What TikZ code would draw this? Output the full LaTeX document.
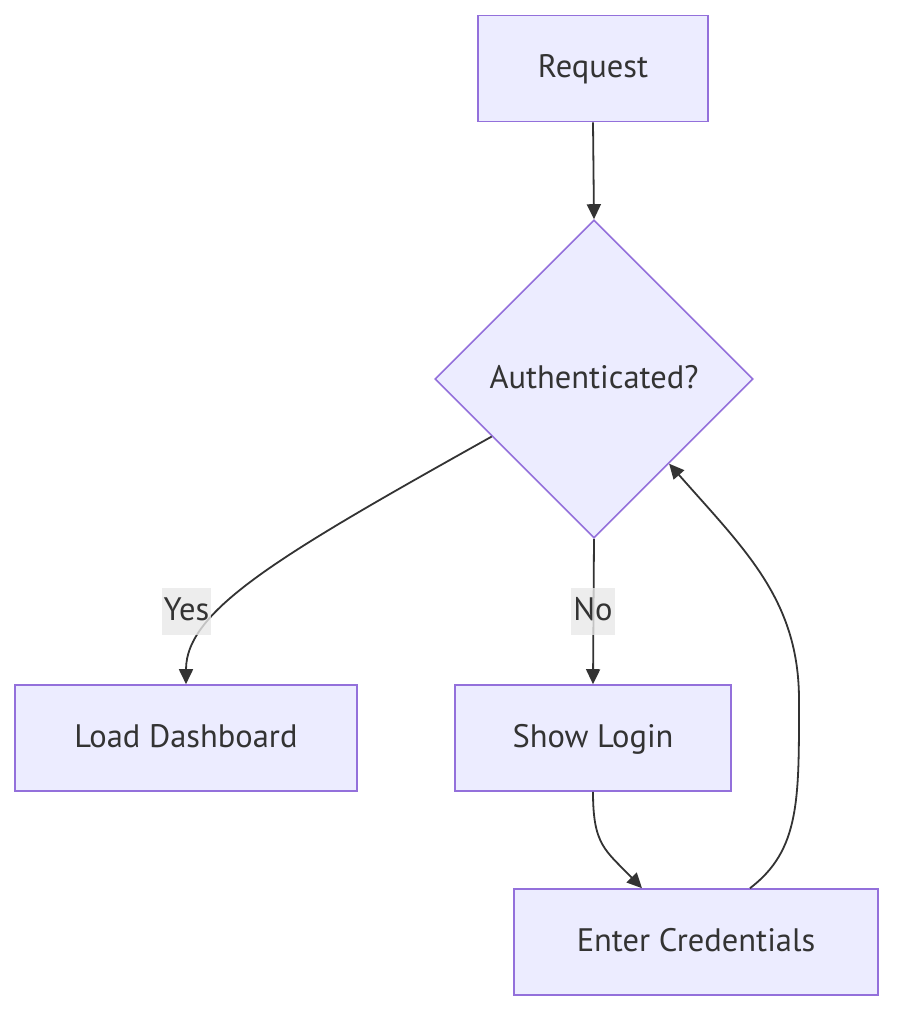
\documentclass[tikz,border=0pt]{standalone}
\usepackage{fontspec}
\setmainfont{PT Sans}
\usetikzlibrary{shapes.geometric,arrows.meta,calc}
\definecolor{nodefill}{HTML}{ECECFF}
\definecolor{nodestroke}{HTML}{9370DB}
\definecolor{edgecol}{HTML}{333333}
\definecolor{txtcol}{HTML}{333333}
\definecolor{lblbg}{HTML}{E8E8E8}
\begin{document}
\begin{tikzpicture}[x=1pt,y=-1pt,
  lblfont/.style={font=\fontsize{32.5}{38}\selectfont,text height=23pt,text depth=5pt},
  box/.style={draw=nodestroke,fill=nodefill,line width=1.6pt,minimum height=106pt,inner sep=0pt,text=txtcol,lblfont},
  decision/.style={diamond,aspect=1,draw=nodestroke,fill=nodefill,line width=1.6pt,minimum width=318pt,minimum height=318pt,inner sep=0pt,text=txtcol,lblfont},
  edge/.style={draw=edgecol,line width=1.8pt,-{Triangle[length=15pt,width=14pt]}},
  elabel/.style={fill=lblbg,fill opacity=0.8,text opacity=1,text=txtcol,inner xsep=2pt,inner ysep=0pt,minimum height=47pt,lblfont}
]
\useasboundingbox (0,0) rectangle (910,1028);
\node[box,minimum width=230pt] (req) at (593,68.5) {Request};
\node[decision] (auth) at (594,379) {Authenticated?};
\node[box,minimum width=342pt] (load) at (186,738) {Load Dashboard};
\node[box,minimum width=276pt] (show) at (593,738) {Show Login};
\node[box,minimum width=364pt] (enter) at (696,942) {Enter Credentials};

\draw[edge] (req.south) -- (auth.north);
\coordinate (yesstart) at ($(auth.west)!0.36!(auth.south)$);
\draw[edge] (yesstart) .. controls (280,555) and (186,610) .. (load.north);
\draw[edge] (auth.south) -- (show.north);
\draw[edge] (show.south) .. controls (593,845) and (605,850) .. ([xshift=-54pt]enter.north);
\coordinate (backend) at ($(auth.east)!0.53!(auth.south)$);
\draw[edge] ([xshift=54pt]enter.north) .. controls (800,850) and (799,800) .. (799,700) .. controls (799,600) and (745,550) .. (backend);

\node[elabel] (yes) at (186.5,611) {Yes};
\node[elabel] (no) at (593,611) {No};
\end{tikzpicture}
\end{document}
